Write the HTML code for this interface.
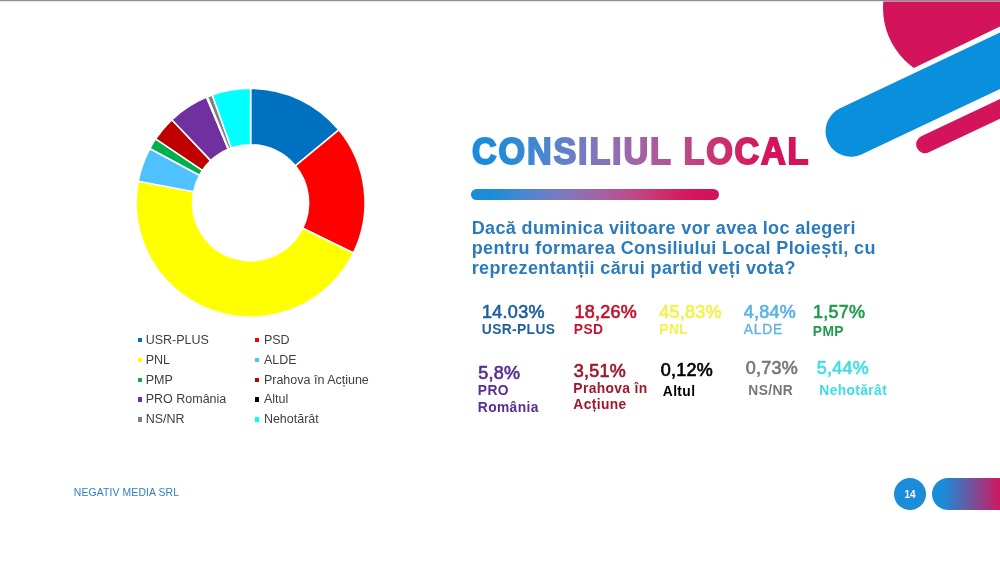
<!DOCTYPE html>
<html lang="ro"><head><meta charset="utf-8"><title>Consiliul Local</title>
<style>
html,body{margin:0;padding:0;background:#fff}
body{width:1000px;height:564px;position:relative;overflow:hidden;font-family:"Liberation Sans",sans-serif}
.topline{position:absolute;left:0;top:0;width:1000px;height:3px;background:linear-gradient(#8e8e8e 0,#8e8e8e 1px,#e6e6e6 1px,#e6e6e6 2px,#fdfdfd 2px)}
svg.art{position:absolute;left:0;top:0}
.mk{position:absolute;width:4.3px;height:4.3px;display:block}
.lg{position:absolute;font-size:12.5px;line-height:14px;color:#404040;white-space:nowrap}
.q{position:absolute;left:471.7px;top:217.5px;font-weight:bold;font-size:18px;line-height:20px;color:#2B7BBF;white-space:nowrap;letter-spacing:.37px}
.pc{position:absolute;font-size:18px;line-height:20px;white-space:nowrap;letter-spacing:.25px;-webkit-text-stroke:.65px currentColor}
.nm{position:absolute;font-size:13.8px;line-height:16px;font-weight:bold;white-space:nowrap;letter-spacing:.38px}
.ft{position:absolute;left:73.8px;top:487.3px;font-size:10.4px;line-height:12px;color:#2F80C6;white-space:nowrap;letter-spacing:.13px}
.pg{position:absolute;left:894px;top:478px;width:32px;height:32px;border-radius:50%;background:#1A8CD8;color:#fff;font-weight:bold;font-size:10px;line-height:33px;text-align:center}
.pill{position:absolute;left:931.5px;top:478px;width:100px;height:31.6px;border-radius:16px;background:linear-gradient(90deg,#1A8CD8 0,#1A8CD8 11px,#D4145A 70px)}
.bar{position:absolute;left:471px;top:189.2px;width:248px;height:11px;border-radius:6px;background:linear-gradient(90deg,#1A8CD8 0.00%,#1A8CD8 5.00%,#248BD7 10.50%,#3789D4 16.00%,#4B86D0 21.50%,#5E82CB 27.00%,#707CC4 32.50%,#8076BC 38.00%,#8F6FB3 43.50%,#9C67A9 49.00%,#A95E9E 54.50%,#B35492 60.00%,#BD4986 65.50%,#C53D7A 71.00%,#CB316E 76.50%,#D02464 82.00%,#D3195D 87.50%,#D4145A 93.00%,#D4145A 100.00%)}
</style></head><body>
<div class="topline"></div>
<svg class="art" width="1000" height="564" viewBox="0 0 1000 564">
<defs>
<linearGradient id="tg" gradientUnits="userSpaceOnUse" x1="502.1" y1="0" x2="859.6" y2="0"><stop offset="0.0000" stop-color="#1A8CD8"/><stop offset="0.0500" stop-color="#1A8CD8"/><stop offset="0.1031" stop-color="#248BD7"/><stop offset="0.1562" stop-color="#3789D4"/><stop offset="0.2094" stop-color="#4B86D0"/><stop offset="0.2625" stop-color="#5E82CB"/><stop offset="0.3156" stop-color="#707CC4"/><stop offset="0.3687" stop-color="#8076BC"/><stop offset="0.4219" stop-color="#8F6FB3"/><stop offset="0.4750" stop-color="#9C67A9"/><stop offset="0.5281" stop-color="#A95E9E"/><stop offset="0.5813" stop-color="#B35492"/><stop offset="0.6344" stop-color="#BD4986"/><stop offset="0.6875" stop-color="#C53D7A"/><stop offset="0.7406" stop-color="#CB316E"/><stop offset="0.7938" stop-color="#D02464"/><stop offset="0.8469" stop-color="#D3195D"/><stop offset="0.9000" stop-color="#D4145A"/><stop offset="1.0000" stop-color="#D4145A"/></linearGradient>
<clipPath id="cc"><polygon points="860,1.5 1000,1.5 1000,26.6 913.3,68.3 860,94"/></clipPath>
</defs>
<!-- decorative shapes -->
<circle cx="957" cy="8" r="74" fill="#D4145A" clip-path="url(#cc)"/>
<g transform="rotate(-25.33 851 131.3)"><rect x="825.5" y="105.8" width="260" height="51" rx="25.5" fill="#0A8FDC"/></g>
<g transform="rotate(-25.33 924.7 144.5)"><rect x="916.2" y="135.5" width="140" height="17.9" rx="8.95" fill="#D4145A"/></g>
<!-- donut -->
<g stroke="#fff" stroke-width="1.6" stroke-linejoin="round">
<path d="M250.60 88.30A114.45 114.45 0 0 1 338.84 129.86L295.32 165.81A58 58 0 0 0 250.60 144.75Z" fill="#0070C0"/>
<path d="M338.84 129.86A114.45 114.45 0 0 1 353.39 253.09L302.69 228.26A58 58 0 0 0 295.32 165.81Z" fill="#FF0000"/>
<path d="M353.39 253.09A114.45 114.45 0 0 1 138.20 181.17L193.64 191.82A58 58 0 0 0 302.69 228.26Z" fill="#FFFF00"/>
<path d="M138.20 181.17A114.45 114.45 0 0 1 149.80 148.55L199.52 175.28A58 58 0 0 0 193.64 191.82Z" fill="#4FC1FF"/>
<path d="M149.80 148.55A114.45 114.45 0 0 1 155.62 138.89L202.47 170.39A58 58 0 0 0 199.52 175.28Z" fill="#00B050"/>
<path d="M155.62 138.89A114.45 114.45 0 0 1 171.86 119.69L210.70 160.66A58 58 0 0 0 202.47 170.39Z" fill="#C00000"/>
<path d="M171.86 119.69A114.45 114.45 0 0 1 206.59 97.10L228.30 149.21A58 58 0 0 0 210.70 160.66Z" fill="#7030A0"/>
<path d="M206.59 97.10A114.45 114.45 0 0 1 207.39 96.77L228.70 149.04A58 58 0 0 0 228.30 149.21Z" fill="#000000"/>
<path d="M207.39 96.77A114.45 114.45 0 0 1 212.29 94.90L231.18 148.10A58 58 0 0 0 228.70 149.04Z" fill="#7F7F7F"/>
<path d="M212.29 94.90A114.45 114.45 0 0 1 250.60 88.30L250.60 144.75A58 58 0 0 0 231.18 148.10Z" fill="#00FFFF"/>
</g>
<g transform="scale(0.94 1)"><text x="502.22 530.42 560.64 588.83 615.02 627.04 651.18 663.20 691.39 716.31 727.08 751.22 781.44 809.63 837.83" y="164.0" font-family="Liberation Sans, sans-serif" font-weight="bold" font-size="36.4" fill="url(#tg)" stroke="url(#tg)" stroke-width="1.9" stroke-linejoin="miter">CONSILIUL LOCAL</text></g>
</svg>
<div class="bar"></div>
<i class="mk" style="left:137.8px;top:337.7px;background:#0070C0"></i><span class="lg" style="left:145.7px;top:332.7px">USR-PLUS</span>
<i class="mk" style="left:255.2px;top:337.7px;background:#FF0000"></i><span class="lg" style="left:263.9px;top:332.7px">PSD</span>
<i class="mk" style="left:137.8px;top:357.6px;background:#FFFF00"></i><span class="lg" style="left:145.7px;top:352.6px">PNL</span>
<i class="mk" style="left:255.2px;top:357.6px;background:#4FC1FF"></i><span class="lg" style="left:263.9px;top:352.6px">ALDE</span>
<i class="mk" style="left:137.8px;top:377.5px;background:#00B050"></i><span class="lg" style="left:145.7px;top:372.5px">PMP</span>
<i class="mk" style="left:255.2px;top:377.5px;background:#C00000"></i><span class="lg" style="left:263.9px;top:372.5px">Prahova în Acțiune</span>
<i class="mk" style="left:137.8px;top:397.4px;background:#7030A0"></i><span class="lg" style="left:145.7px;top:392.4px">PRO România</span>
<i class="mk" style="left:255.2px;top:397.4px;background:#000000"></i><span class="lg" style="left:263.9px;top:392.4px">Altul</span>
<i class="mk" style="left:137.8px;top:417.3px;background:#7F7F7F"></i><span class="lg" style="left:145.7px;top:412.3px">NS/NR</span>
<i class="mk" style="left:255.2px;top:417.3px;background:#00FFFF"></i><span class="lg" style="left:263.9px;top:412.3px">Nehotărât</span>
<div class="q">Dacă duminica viitoare vor avea loc alegeri<br>pentru formarea Consiliului Local Ploiești, cu<br>reprezentanții cărui partid veți vota?</div>
<span class="pc" style="left:482.1px;top:301.8px;color:#1F5F9E">14.03%</span>
<span class="nm" style="left:481.8px;top:321.60px;color:#1F5F9E">USR-PLUS</span>
<span class="pc" style="left:574.4px;top:301.8px;color:#C3142D">18,26%</span>
<span class="nm" style="left:573.8px;top:321.60px;color:#C3142D">PSD</span>
<span class="pc" style="left:659.2px;top:301.8px;color:#F2F24A">45,83%</span>
<span class="nm" style="left:659.3px;top:321.60px;color:#F2F24A">PNL</span>
<span class="pc" style="left:743.7px;top:301.8px;color:#5BB2E6">4,84%</span>
<span class="nm" style="left:743.8px;top:321.60px;color:#5BB2E6;font-weight:normal;letter-spacing:.8px;-webkit-text-stroke:.3px currentColor">ALDE</span>
<span class="pc" style="left:812.9px;top:301.8px;color:#229A50">1,57%</span>
<span class="nm" style="left:812.8px;top:323.60px;color:#229A50">PMP</span>
<span class="pc" style="left:478.2px;top:362.8px;color:#5B2D90">5,8%</span>
<span class="nm" style="left:477.8px;top:382.10px;color:#5B2D90;line-height:17.0px">PRO<br>România</span>
<span class="pc" style="left:573.7px;top:361.3px;color:#A0182A">3,51%</span>
<span class="nm" style="left:573.3px;top:380.95px;color:#A0182A;line-height:16.5px">Prahova în<br>Acțiune</span>
<span class="pc" style="left:660.7px;top:359.8px;color:#000000">0,12%</span>
<span class="nm" style="left:662.8px;top:383.60px;color:#000000">Altul</span>
<span class="pc" style="left:745.7px;top:357.8px;color:#777777">0,73%</span>
<span class="nm" style="left:748.3px;top:382.60px;color:#777777">NS/NR</span>
<span class="pc" style="left:816.7px;top:357.8px;color:#3FDDE6">5,44%</span>
<span class="nm" style="left:819.3px;top:382.60px;color:#3FDDE6">Nehotărât</span>
<div class="ft">NEGATIV MEDIA SRL</div>
<div class="pg">14</div>
<div class="pill"></div>
</body></html>
